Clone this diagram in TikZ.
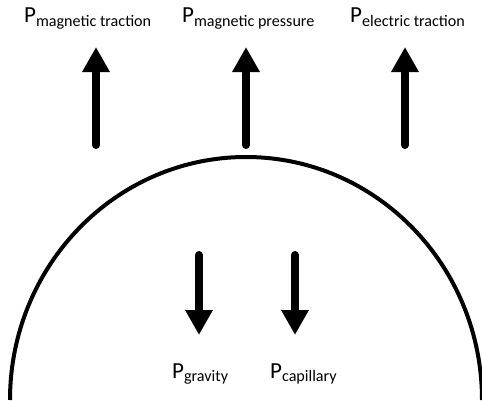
\documentclass[tikz,border=0pt]{standalone}
\usepackage{fontspec}
\setmainfont{Carlito}
\usetikzlibrary{arrows.meta,positioning}

\begin{document}
\begin{tikzpicture}[
    x=1pt,y=1pt,
    lbl/.style={anchor=base west,inner sep=0pt,font=\fontsize{23}{26}\selectfont},
    force/.style={-{Triangle[length=25pt,width=26pt]},line width=8pt,line cap=round},
    drop/.style={line width=4pt}
  ]
    \useasboundingbox (0,0) rectangle (482,400);

    % labels
    \node[lbl] (magtrac) at (24,377) {P\textsubscript{magnetic traction}};
    \node[lbl] (magpres) at (182,377) {P\textsubscript{magnetic pressure}};
    \node[lbl] (eltrac) at (350,377) {P\textsubscript{electric traction}};
    \node[lbl] (grav) at (172,22) {P\textsubscript{gravity}};
    \node[lbl] (capil) at (270,22) {P\textsubscript{capillary}};

    % arrow ends
    \coordinate (magtracA) at (96,255);
    \coordinate (magtracB) at (96,353);
    \coordinate (magpresA) at (246,255);
    \coordinate (magpresB) at (246,353);
    \coordinate (eltracA) at (405,255);
    \coordinate (eltracB) at (405,353);
    \coordinate (gravA) at (199,145);
    \coordinate (gravB) at (199,65);
    \coordinate (capilA) at (295,145);
    \coordinate (capilB) at (295,65);

    % droplet surface
    \draw[drop] (10,0) arc[start angle=180,end angle=0,x radius=236,y radius=243];

    \draw[force] (magtracA) -- (magtracB);
    \draw[force] (magpresA) -- (magpresB);
    \draw[force] (eltracA) -- (eltracB);
    \draw[force] (gravA) -- (gravB);
    \draw[force] (capilA) -- (capilB);
\end{tikzpicture}
\end{document}
